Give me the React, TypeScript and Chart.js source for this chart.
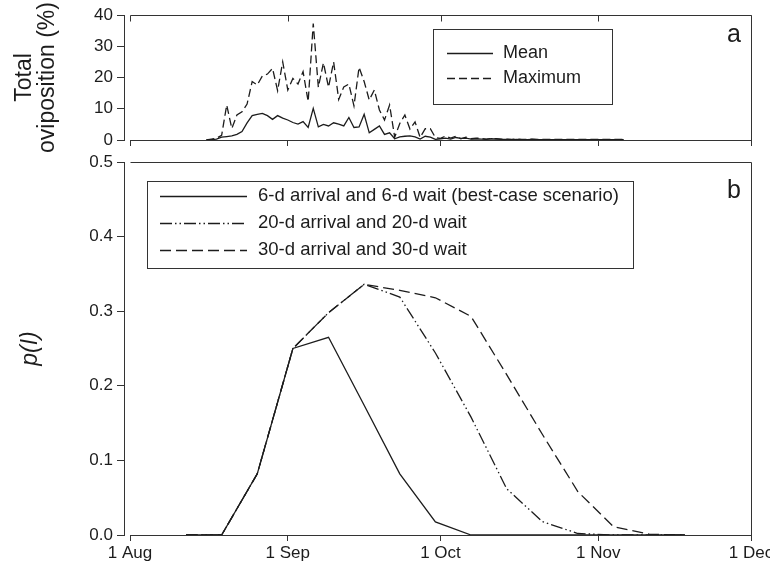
import React, { useEffect, useRef } from 'react';
import { Chart, registerables } from 'chart.js';

Chart.register(...registerables);

const FONT = "'Liberation Sans', Arial, Helvetica, sans-serif";
const INK = '#1c1c1c';
const AXIS = '#333333';

// x axis: days since 1 August
const monthTickDays = [0, 31, 61, 92, 122];
const monthTickLabels = ['1 Aug', '1 Sep', '1 Oct', '1 Nov', '1 Dec'];

// Panel a: daily total oviposition (%), first observation day (days since 1 Aug)
const ovipositionFirstDay = 15;
const ovipositionMean = [
  0, 0.1, 0.3, 0.9, 1.1, 1.3, 1.8, 2.7, 5.5, 7.8, 8.2, 8.5, 7.8, 6.6, 7.8, 7.0,
  6.4, 5.6, 5.1, 5.9, 4.0, 10.1, 4.2, 5.0, 4.5, 5.5, 5.1, 4.5, 7.2, 4.0, 4.2, 8.2,
  2.3, 3.4, 4.5, 1.8, 2.3, 0.4, 1.0, 1.2, 1.3, 1.0, 0.3, 1.2, 0.9, 0.2,
  0.4, 0.6, 0.3, 0.8, 0.5, 0.6, 0.3, 0.4, 0.3, 0.2, 0.4, 0.3, 0.2, 0.2, 0.1, 0.2,
  0.1, 0.1, 0.2, 0.1, 0.1, 0.1, 0.1, 0.1, 0.1, 0.1, 0.1, 0.1, 0.1, 0.1, 0.1, 0.1,
  0.1, 0.1, 0.1, 0.1, 0.1,
];
const ovipositionMax = [
  0, 0.3, 0.6, 1.5, 11.2, 3.7, 8, 9, 11.5, 18.7, 17.6, 20.5, 21.1, 22.9, 15.8, 25,
  16, 19.7, 17.9, 21.9, 12.3, 37.3, 16.9, 24.7, 16.9, 25, 13, 17, 17.9, 10.9, 23.3, 18.7,
  12.8, 16, 9.6, 6.4, 11.2, 0.9, 5.3, 8, 3.5, 5.8, 0.8, 3.6, 3.6, 0.8,
  0.5, 1.3, 0.6, 1.2, 0.4, 0.9, 0.4, 0.6, 0.5, 0.3, 0.5, 0.4, 0.3, 0.3, 0.2, 0.3,
  0.2, 0.2, 0.3, 0.2, 0.2, 0.2, 0.2, 0.2, 0.2, 0.2, 0.2, 0.2, 0.2, 0.2, 0.2, 0.2,
  0.2, 0.2, 0.2, 0.2, 0.2,
];
const legendA = ['Mean', 'Maximum'];

// Panel b: p(I) at weekly dates (days since 1 Aug)
const pDays = [11, 18, 25, 32, 39, 46, 53, 60, 67, 74, 81, 88, 95, 102, 109];
const p6d = [0, 0, 0.082, 0.25, 0.265, 0.174, 0.082, 0.0175, 0, 0, 0, 0, 0, 0, 0];
const p20d = [0, 0, 0.082, 0.25, 0.298, 0.336, 0.319, 0.244, 0.158, 0.062, 0.018, 0.002, 0, 0, 0];
const p30d = [0, 0, 0.082, 0.25, 0.298, 0.336, 0.328, 0.318, 0.293, 0.215, 0.135, 0.058, 0.011, 0.001, 0];
const legendB = [
  '6-d arrival and 6-d wait (best-case scenario)',
  '20-d arrival and 20-d wait',
  '30-d arrival and 30-d wait',
];

const X_MIN = -1.18;
const X_MAX = 122;

type Decor = {
  innerTopTicks: boolean;
  letter: string;
  letterY: number;
  box: [number, number, number, number];
  rowY: number[];
  sample: [number, number];
  textX: number;
  fontSize: number;
};

function decorPlugin(d: Decor) {
  return {
    id: 'decor',
    beforeDatasetsDraw(chart: any) {
      const { ctx, chartArea } = chart;
      const xs = chart.scales.x;
      const x0 = Math.round(xs.getPixelForValue(monthTickDays[0])) + 0.5;
      const x1 = Math.round(xs.getPixelForValue(monthTickDays[monthTickDays.length - 1])) + 0.5;
      const top = Math.round(chartArea.top) + 0.5;
      const bot = Math.round(chartArea.bottom) + 0.5;
      ctx.save();
      ctx.strokeStyle = AXIS;
      ctx.lineWidth = 1;
      ctx.beginPath();
      ctx.moveTo(x0, top);
      ctx.lineTo(x1, top);
      ctx.lineTo(x1, bot);
      ctx.moveTo(x0, bot);
      ctx.lineTo(x1, bot);
      if (d.innerTopTicks) {
        monthTickDays.forEach((v) => {
          const px = Math.round(xs.getPixelForValue(v)) + 0.5;
          ctx.moveTo(px, top);
          ctx.lineTo(px, top + 6);
        });
      }
      ctx.stroke();
      ctx.restore();
    },
    afterDatasetsDraw(chart: any) {
      const { ctx } = chart;
      ctx.save();
      const [bx, by, bw, bh] = d.box;
      ctx.fillStyle = '#ffffff';
      ctx.fillRect(bx, by, bw, bh);
      ctx.strokeStyle = AXIS;
      ctx.lineWidth = 1;
      ctx.strokeRect(bx + 0.5, by + 0.5, bw, bh);
      chart.data.datasets.forEach((ds: any, i: number) => {
        const y = d.rowY[i];
        ctx.strokeStyle = ds.borderColor;
        ctx.lineWidth = ds.borderWidth;
        ctx.setLineDash(ds.borderDash || []);
        ctx.beginPath();
        ctx.moveTo(d.sample[0], y + 0.5);
        ctx.lineTo(d.sample[1], y + 0.5);
        ctx.stroke();
        ctx.setLineDash([]);
        ctx.fillStyle = INK;
        ctx.font = `${d.fontSize}px ${FONT}`;
        ctx.textBaseline = 'middle';
        ctx.textAlign = 'left';
        ctx.fillText(ds.label, d.textX, y);
      });
      ctx.font = `25px ${FONT}`;
      ctx.textAlign = 'right';
      ctx.textBaseline = 'alphabetic';
      ctx.fillStyle = INK;
      ctx.fillText(d.letter, 741, d.letterY);
      ctx.restore();
    },
  };
}

function xScale(showLabels: boolean, height: number) {
  return {
    type: 'linear',
    min: X_MIN,
    max: X_MAX,
    afterBuildTicks: (s: any) => {
      s.ticks = monthTickDays.map((v) => ({ value: v }));
    },
    afterFit: (s: any) => {
      s.height = height;
      s.paddingLeft = 0;
      s.paddingRight = 0;
    },
    border: { display: false },
    grid: { drawOnChartArea: false, drawTicks: true, tickLength: 6, color: AXIS, tickColor: AXIS },
    ticks: {
      display: showLabels,
      autoSkip: false,
      maxRotation: 0,
      padding: 2,
      color: INK,
      font: { size: 17, family: FONT },
      callback: (v: any) => {
        const i = monthTickDays.indexOf(Number(v));
        return i >= 0 ? monthTickLabels[i] : '';
      },
    },
  };
}

function yScale(min: number, max: number, step: number, title: any, fmt: (v: number) => string) {
  return {
    type: 'linear',
    min,
    max,
    afterFit: (s: any) => {
      s.width = 124;
      s.paddingTop = 0;
      s.paddingBottom = 0;
    },
    border: { display: true, color: AXIS, width: 1 },
    grid: { drawOnChartArea: false, drawTicks: true, tickLength: 7, color: AXIS, tickColor: AXIS },
    ticks: {
      stepSize: step,
      padding: 4,
      color: INK,
      font: { size: 17, family: FONT },
      callback: (v: any) => fmt(Number(v)),
    },
    title,
  };
}

export default function App() {
  const refA = useRef<HTMLCanvasElement | null>(null);
  const refB = useRef<HTMLCanvasElement | null>(null);

  useEffect(() => {
    Chart.defaults.font.family = FONT;
    const meanPts = ovipositionMean.map((y, i) => ({ x: ovipositionFirstDay + i, y }));
    const maxPts = ovipositionMax.map((y, i) => ({ x: ovipositionFirstDay + i, y }));

    const chartA = new Chart(refA.current as HTMLCanvasElement, {
      type: 'line',
      data: {
        datasets: [
          { label: legendA[0], data: meanPts, borderColor: INK, borderWidth: 1.3, pointRadius: 0, tension: 0, fill: false },
          { label: legendA[1], data: maxPts, borderColor: INK, borderWidth: 1.3, borderDash: [8, 4], pointRadius: 0, tension: 0, fill: false },
        ],
      },
      options: {
        animation: false,
        responsive: false,
        devicePixelRatio: 1,
        layout: { padding: { left: 0, top: 15, right: 19, bottom: 0 } },
        plugins: { legend: { display: false }, tooltip: { enabled: false } },
        scales: {
          x: xScale(false, 568 - 140),
          y: yScale(0, 40, 10, {
            display: true,
            text: ['Total', 'oviposition (%)'],
            color: INK,
            font: { size: 23, family: FONT, lineHeight: 1.0 },
            padding: { top: 13.5, bottom: 0 },
          }, (v) => String(v)),
        },
      } as any,
      plugins: [decorPlugin({
        innerTopTicks: true,
        letter: 'a',
        letterY: 42,
        box: [433, 29, 179, 75],
        rowY: [53, 78],
        sample: [447, 493],
        textX: 503,
        fontSize: 18,
      })],
    } as any);

    const mk = (arr: number[]) => arr.map((y, i) => ({ x: pDays[i], y }));
    const chartB = new Chart(refB.current as HTMLCanvasElement, {
      type: 'line',
      data: {
        datasets: [
          { label: legendB[0], data: mk(p6d), borderColor: INK, borderWidth: 1.3, pointRadius: 0, tension: 0, fill: false },
          { label: legendB[1], data: mk(p20d), borderColor: INK, borderWidth: 1.3, borderDash: [12, 3, 1.5, 3, 1.5, 3], pointRadius: 0, tension: 0, fill: false },
          { label: legendB[2], data: mk(p30d), borderColor: INK, borderWidth: 1.3, borderDash: [11, 5], pointRadius: 0, tension: 0, fill: false },
        ],
      },
      options: {
        animation: false,
        responsive: false,
        devicePixelRatio: 1,
        layout: { padding: { left: 0, top: 162, right: 19, bottom: 0 } },
        plugins: { legend: { display: false }, tooltip: { enabled: false } },
        scales: {
          x: xScale(true, 568 - 535),
          y: yScale(0, 0.5, 0.1, {
            display: true,
            text: 'p(I)',
            color: INK,
            font: { size: 23, family: FONT, style: 'italic', lineHeight: 1.0 },
            padding: { top: 19.5, bottom: 0 },
          }, (v) => v.toFixed(1)),
        },
      } as any,
      plugins: [decorPlugin({
        innerTopTicks: false,
        letter: 'b',
        letterY: 198,
        box: [147, 181, 486, 87],
        rowY: [196, 223, 250],
        sample: [160, 247],
        textX: 258,
        fontSize: 18.5,
      })],
    } as any);

    return () => {
      chartA.destroy();
      chartB.destroy();
    };
  }, []);

  const cs: React.CSSProperties = { position: 'absolute', left: 0, top: 0, width: 770, height: 568, display: 'block' };
  return (
    <div style={{ position: 'absolute', left: 0, top: 0, width: 770, height: 568, background: '#ffffff' }}>
      <canvas ref={refA} width={770} height={568} style={cs} />
      <canvas ref={refB} width={770} height={568} style={cs} />
    </div>
  );
}
